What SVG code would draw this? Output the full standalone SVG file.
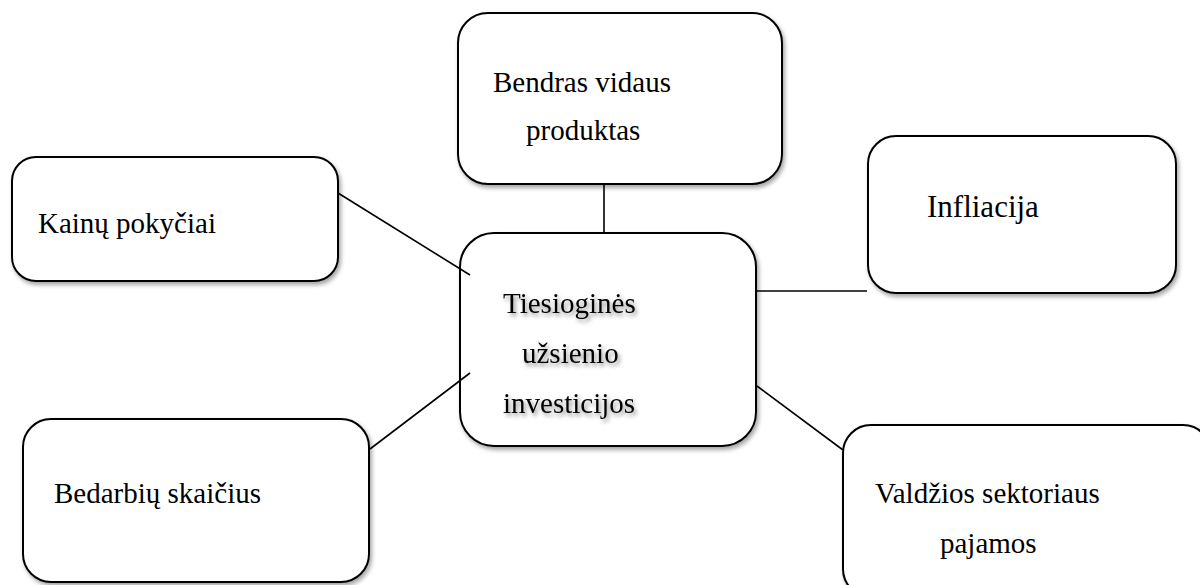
<svg xmlns="http://www.w3.org/2000/svg" width="1200" height="585" viewBox="0 0 1200 585">
<defs>
<filter id="sh" x="-10%" y="-10%" width="130%" height="130%">
<feDropShadow dx="2" dy="3" stdDeviation="2" flood-color="#000" flood-opacity="0.35"/>
</filter>
<filter id="tsh" x="-10%" y="-20%" width="130%" height="150%">
<feDropShadow dx="2" dy="3" stdDeviation="2" flood-color="#000" flood-opacity="0.45"/>
</filter>
</defs>
<style>
.box{fill:#fff;stroke:#000;stroke-width:2}
.t{font-family:"Liberation Serif","Times New Roman",serif;font-size:29px;fill:#000}
.c{stroke:#000;stroke-width:1.6;fill:none}
</style>
<rect width="1200" height="585" fill="#fff"/>
<g id="node-bvp">
<rect class="box" x="458" y="13" width="324" height="171" rx="30" filter="url(#sh)"/>
<text class="t" x="493" y="92">Bendras vidaus</text>
<text class="t" x="526" y="140">produktas</text>
</g>
<g id="node-kainu">
<rect class="box" x="12" y="157" width="326" height="124" rx="24" filter="url(#sh)"/>
<text class="t" x="38" y="233">Kainų pokyčiai</text>
</g>
<g id="node-infliacija">
<rect class="box" x="868" y="136" width="308" height="157" rx="28" filter="url(#sh)"/>
<text class="t" x="927" y="217" style="font-size:31px">Infliacija</text>
</g>
<g id="node-bedarbiu">
<rect class="box" x="23" y="419" width="346" height="163" rx="28" filter="url(#sh)"/>
<text class="t" x="54" y="503">Bedarbių skaičius</text>
</g>
<g id="node-valdzios">
<rect class="box" x="843" y="425" width="368" height="172" rx="28" filter="url(#sh)"/>
<text class="t" x="875" y="503">Valdžios sektoriaus</text>
<text class="t" x="940" y="553">pajamos</text>
</g>
<g id="node-tui">
<rect class="box" x="460" y="233" width="296" height="213" rx="34" filter="url(#sh)"/>
<g filter="url(#tsh)">
<text class="t" x="503" y="313">Tiesioginės</text>
<text class="t" x="522" y="363">užsienio</text>
<text class="t" x="503" y="413">investicijos</text>
</g>
</g>
<g id="connectors">
<line class="c" x1="604" y1="185" x2="604" y2="232"/>
<line class="c" x1="338" y1="193" x2="470" y2="275"/>
<line class="c" x1="757" y1="291" x2="867" y2="291"/>
<line class="c" x1="370" y1="449" x2="470" y2="373"/>
<line class="c" x1="757" y1="386" x2="843" y2="450"/>
</g>
</svg>
